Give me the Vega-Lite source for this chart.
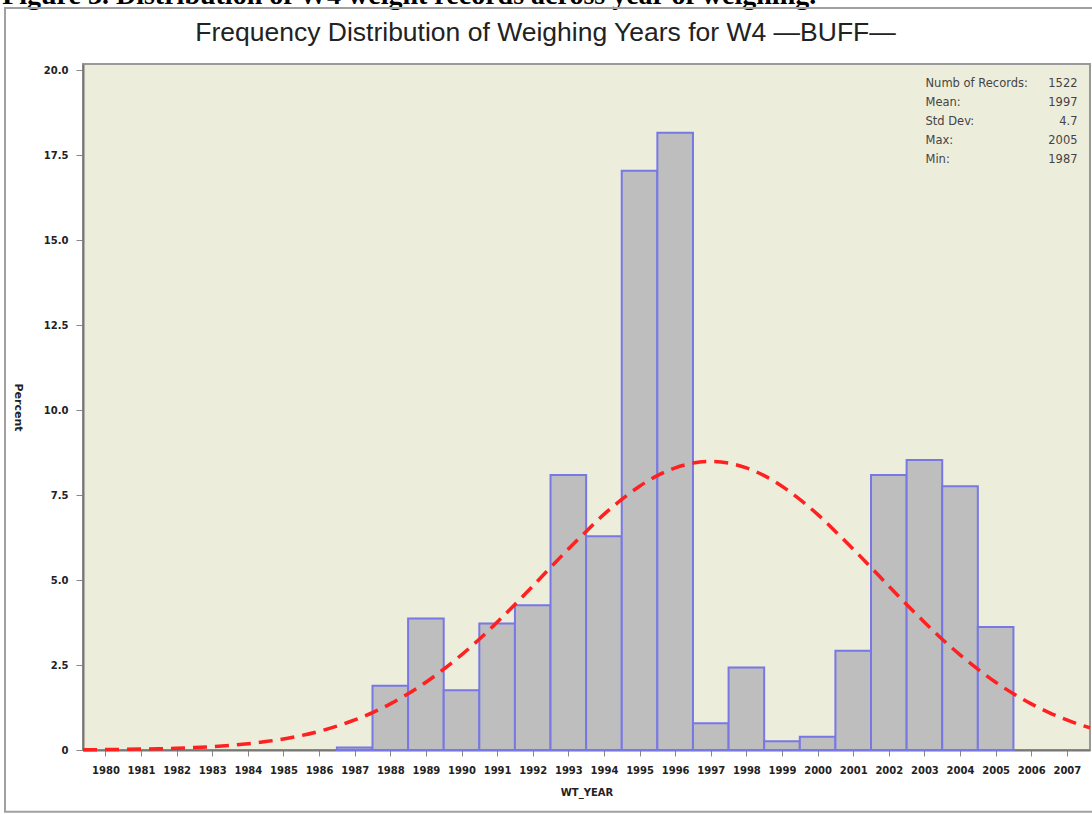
{
  "$schema": "https://vega.github.io/schema/vega-lite/v6.json",
  "width": 1007,
  "height": 686,
  "autosize": {"type": "none"},
  "padding": {"left": 83, "top": 64, "right": 2, "bottom": 64},
  "background": "white",
  "title": {
    "text": "Frequency Distribution of Weighing Years for W4 —BUFF—",
    "font": "Liberation Sans",
    "fontSize": 26.5,
    "fontWeight": "normal",
    "color": "#222222",
    "anchor": "middle",
    "frame": "group",
    "dx": -41,
    "dy": 85,
    "offset": 0,
    "baseline": "alphabetic"
  },
  "config": {
    "view": {"fill": "#EDEDDC", "stroke": "#999999", "strokeWidth": 2},
    "axis": {
      "grid": false,
      "labelFont": "DejaVu Sans",
      "labelFontWeight": "bold",
      "labelFontSize": 10,
      "labelColor": "#222222",
      "titleFont": "DejaVu Sans",
      "titleFontWeight": "bold",
      "titleFontSize": 10,
      "titleColor": "#222222",
      "tickColor": "#888888",
      "domainColor": "#777777",
      "domainWidth": 2
    },
    "axisX": {"tickCount": 28, "labelOverlap": false, "labelFlush": false}
  },
  "datasets": {
    "bars": [
      {"year": 1987, "bin_start": 1986.5, "bin_end": 1987.5, "percent": 0.07},
      {"year": 1988, "bin_start": 1987.5, "bin_end": 1988.5, "percent": 1.89},
      {"year": 1989, "bin_start": 1988.5, "bin_end": 1989.5, "percent": 3.87},
      {"year": 1990, "bin_start": 1989.5, "bin_end": 1990.5, "percent": 1.76},
      {"year": 1991, "bin_start": 1990.5, "bin_end": 1991.5, "percent": 3.72},
      {"year": 1992, "bin_start": 1991.5, "bin_end": 1992.5, "percent": 4.26},
      {"year": 1993, "bin_start": 1992.5, "bin_end": 1993.5, "percent": 8.09},
      {"year": 1994, "bin_start": 1993.5, "bin_end": 1994.5, "percent": 6.29},
      {"year": 1995, "bin_start": 1994.5, "bin_end": 1995.5, "percent": 17.04},
      {"year": 1996, "bin_start": 1995.5, "bin_end": 1996.5, "percent": 18.16},
      {"year": 1997, "bin_start": 1996.5, "bin_end": 1997.5, "percent": 0.79},
      {"year": 1998, "bin_start": 1997.5, "bin_end": 1998.5, "percent": 2.43},
      {"year": 1999, "bin_start": 1998.5, "bin_end": 1999.5, "percent": 0.26},
      {"year": 2000, "bin_start": 1999.5, "bin_end": 2000.5, "percent": 0.39},
      {"year": 2001, "bin_start": 2000.5, "bin_end": 2001.5, "percent": 2.92},
      {"year": 2002, "bin_start": 2001.5, "bin_end": 2002.5, "percent": 8.09},
      {"year": 2003, "bin_start": 2002.5, "bin_end": 2003.5, "percent": 8.53},
      {"year": 2004, "bin_start": 2003.5, "bin_end": 2004.5, "percent": 7.76},
      {"year": 2005, "bin_start": 2004.5, "bin_end": 2005.5, "percent": 3.62}
    ],
    "curve": [
      {"x": 1979.37, "pct": 0.008},
      {"x": 1979.5, "pct": 0.008},
      {"x": 1980, "pct": 0.012},
      {"x": 1980.5, "pct": 0.018},
      {"x": 1981, "pct": 0.026},
      {"x": 1981.5, "pct": 0.037},
      {"x": 1982, "pct": 0.052},
      {"x": 1982.5, "pct": 0.073},
      {"x": 1983, "pct": 0.10},
      {"x": 1983.5, "pct": 0.137},
      {"x": 1984, "pct": 0.185},
      {"x": 1984.5, "pct": 0.247},
      {"x": 1985, "pct": 0.326},
      {"x": 1985.5, "pct": 0.425},
      {"x": 1986, "pct": 0.549},
      {"x": 1986.5, "pct": 0.70},
      {"x": 1987, "pct": 0.883},
      {"x": 1987.5, "pct": 1.10},
      {"x": 1988, "pct": 1.358},
      {"x": 1988.5, "pct": 1.655},
      {"x": 1989, "pct": 1.994},
      {"x": 1989.5, "pct": 2.377},
      {"x": 1990, "pct": 2.80},
      {"x": 1990.5, "pct": 3.26},
      {"x": 1991, "pct": 3.76},
      {"x": 1991.5, "pct": 4.28},
      {"x": 1992, "pct": 4.82},
      {"x": 1992.5, "pct": 5.37},
      {"x": 1993, "pct": 5.91},
      {"x": 1993.5, "pct": 6.43},
      {"x": 1994, "pct": 6.93},
      {"x": 1994.5, "pct": 7.37},
      {"x": 1995, "pct": 7.76},
      {"x": 1995.5, "pct": 8.07},
      {"x": 1996, "pct": 8.30},
      {"x": 1996.5, "pct": 8.44},
      {"x": 1997, "pct": 8.49},
      {"x": 1997.5, "pct": 8.44},
      {"x": 1998, "pct": 8.30},
      {"x": 1998.5, "pct": 8.07},
      {"x": 1999, "pct": 7.76},
      {"x": 1999.5, "pct": 7.37},
      {"x": 2000, "pct": 6.93},
      {"x": 2000.5, "pct": 6.43},
      {"x": 2001, "pct": 5.91},
      {"x": 2001.5, "pct": 5.37},
      {"x": 2002, "pct": 4.82},
      {"x": 2002.5, "pct": 4.28},
      {"x": 2003, "pct": 3.76},
      {"x": 2003.5, "pct": 3.26},
      {"x": 2004, "pct": 2.80},
      {"x": 2004.5, "pct": 2.377},
      {"x": 2005, "pct": 1.994},
      {"x": 2005.5, "pct": 1.655},
      {"x": 2006, "pct": 1.358},
      {"x": 2006.5, "pct": 1.10},
      {"x": 2007, "pct": 0.883},
      {"x": 2007.5, "pct": 0.70},
      {"x": 2007.65, "pct": 0.65}
    ],
    "stats": [
      {"stat": "Numb of Records:", "value": "1522"},
      {"stat": "Mean:", "value": "1997"},
      {"stat": "Std Dev:", "value": "4.7"},
      {"stat": "Max:", "value": "2005"},
      {"stat": "Min:", "value": "1987"}
    ],
    "caption": [
      {"text": "Figure 3. Distribution of W4 weight records across year of weighing."}
    ]
  },
  "layer": [
    {
      "layer": [
        {
          "data": {"name": "bars"},
          "mark": {"type": "bar", "fill": "#BEBEBE", "stroke": "#7777E6", "strokeWidth": 2},
          "encoding": {
            "x": {
              "field": "bin_start",
              "type": "quantitative",
              "scale": {"domain": [1979.37, 2007.65], "nice": false, "zero": false, "padding": 0},
              "axis": {
                "title": "WT_YEAR",
                "values": [1980,1981,1982,1983,1984,1985,1986,1987,1988,1989,1990,1991,1992,1993,1994,1995,1996,1997,1998,1999,2000,2001,2002,2003,2004,2005,2006,2007],
                "format": "d",
                "tickSize": 6,
                "labelPadding": 9,
                "titlePadding": 12,
                "labelFlush": false,
                "labelOverlap": false
              }
            },
            "x2": {"field": "bin_end"},
            "y": {
              "field": "percent",
              "type": "quantitative",
              "scale": {"domain": [0, 20.18], "nice": false, "padding": 0},
              "axis": {
                "title": "Percent",
                "values": [0, 2.5, 5, 7.5, 10, 12.5, 15, 17.5, 20],
                "labelExpr": "datum.value == 0 ? '0' : format(datum.value, '.1f')",
                "tickSize": 7,
                "labelPadding": 8,
                "titleAngle": 90,
                "titleFontSize": 11,
                "titlePadding": 31
              }
            },
            "y2": {"datum": 0}
          }
        },
        {
          "data": {"name": "curve"},
          "mark": {"type": "line", "color": "#FF2020", "strokeWidth": 3.5, "strokeDash": [14, 8], "interpolate": "monotone"},
          "encoding": {
            "x": {
              "field": "x",
              "type": "quantitative",
              "axis": {
                "title": "WT_YEAR",
                "values": [1980,1981,1982,1983,1984,1985,1986,1987,1988,1989,1990,1991,1992,1993,1994,1995,1996,1997,1998,1999,2000,2001,2002,2003,2004,2005,2006,2007],
                "format": "d",
                "tickSize": 6,
                "labelPadding": 9,
                "titlePadding": 12,
                "labelFlush": false,
                "labelOverlap": false
              }
            },
            "y": {"field": "pct", "type": "quantitative"}
          }
        },
        {
          "data": {"name": "caption"},
          "mark": {"type": "text", "font": "Liberation Serif", "fontWeight": "bold", "fontSize": 28, "align": "left", "baseline": "alphabetic", "color": "#000000"},
          "encoding": {
            "x": {
              "datum": 1977.1,
              "type": "quantitative",
              "axis": {
                "title": "WT_YEAR",
                "values": [1980,1981,1982,1983,1984,1985,1986,1987,1988,1989,1990,1991,1992,1993,1994,1995,1996,1997,1998,1999,2000,2001,2002,2003,2004,2005,2006,2007],
                "format": "d",
                "tickSize": 6,
                "labelPadding": 9,
                "titlePadding": 12,
                "labelFlush": false,
                "labelOverlap": false
              }
            },
            "y": {"datum": 21.94, "type": "quantitative"},
            "text": {"field": "text"}
          }
        },
        {
          "data": {"values": [{}]},
          "mark": {"type": "rect", "fillOpacity": 0, "stroke": "#A0A0A0", "strokeWidth": 2},
          "encoding": {
            "x": {
              "datum": 1977.18,
              "type": "quantitative",
              "axis": {
                "title": "WT_YEAR",
                "values": [1980,1981,1982,1983,1984,1985,1986,1987,1988,1989,1990,1991,1992,1993,1994,1995,1996,1997,1998,1999,2000,2001,2002,2003,2004,2005,2006,2007],
                "format": "d",
                "tickSize": 6,
                "labelPadding": 9,
                "titlePadding": 12,
                "labelFlush": false,
                "labelOverlap": false
              }
            },
            "x2": {"datum": 2008.6},
            "y": {"datum": 21.83, "type": "quantitative"},
            "y2": {"datum": -1.82}
          }
        }
      ]
    },
    {
      "data": {"name": "stats"},
      "layer": [
        {
          "mark": {"type": "text", "font": "DejaVu Sans", "fontSize": 11.5, "align": "left", "baseline": "middle", "color": "#444444"},
          "encoding": {
            "x": {
              "datum": 2003.03,
              "type": "quantitative",
              "axis": {
                "title": "WT_YEAR",
                "values": [1980,1981,1982,1983,1984,1985,1986,1987,1988,1989,1990,1991,1992,1993,1994,1995,1996,1997,1998,1999,2000,2001,2002,2003,2004,2005,2006,2007],
                "format": "d",
                "tickSize": 6,
                "labelPadding": 9,
                "titlePadding": 12,
                "labelFlush": false,
                "labelOverlap": false
              }
            },
            "y": {"field": "stat", "type": "nominal", "sort": null, "scale": {"type": "point", "range": [20, 96], "padding": 0}, "axis": null},
            "text": {"field": "stat"}
          }
        },
        {
          "mark": {"type": "text", "font": "DejaVu Sans", "fontSize": 11.5, "align": "right", "baseline": "middle", "color": "#444444"},
          "encoding": {
            "x": {
              "datum": 2007.3,
              "type": "quantitative",
              "axis": {
                "title": "WT_YEAR",
                "values": [1980,1981,1982,1983,1984,1985,1986,1987,1988,1989,1990,1991,1992,1993,1994,1995,1996,1997,1998,1999,2000,2001,2002,2003,2004,2005,2006,2007],
                "format": "d",
                "tickSize": 6,
                "labelPadding": 9,
                "titlePadding": 12,
                "labelFlush": false,
                "labelOverlap": false
              }
            },
            "y": {"field": "stat", "type": "nominal", "sort": null, "scale": {"type": "point", "range": [20, 96], "padding": 0}, "axis": null},
            "text": {"field": "value"}
          }
        }
      ]
    }
  ],
  "resolve": {"scale": {"y": "independent"}}
}
